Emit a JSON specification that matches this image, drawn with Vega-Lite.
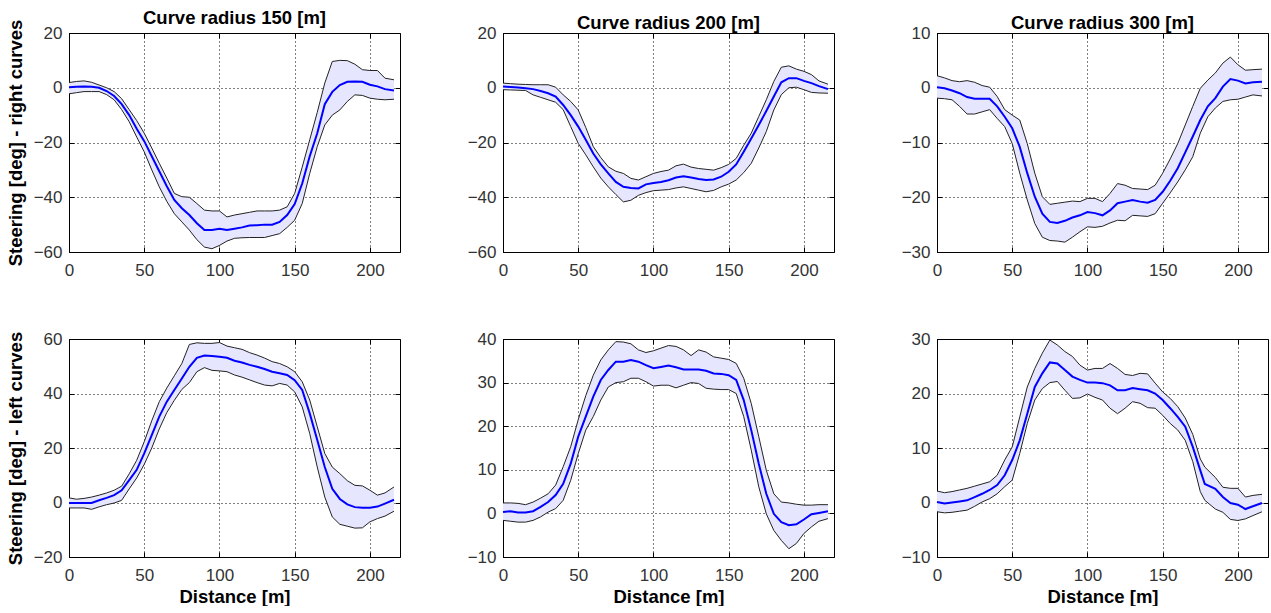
{
  "$schema": "https://vega.github.io/schema/vega-lite/v6.json",
  "padding": {"left": 5, "top": 8, "right": 0, "bottom": 0},
  "background": "white",
  "config": {
    "font": "Liberation Sans",
    "view": {"stroke": "black", "strokeWidth": 1},
    "axis": {
      "domain": false, "grid": true, "gridColor": "black", "gridDash": [1, 3], "gridOpacity": 1, "gridWidth": 1,
      "ticks": true, "tickColor": "black", "tickSize": -5, "tickWidth": 1,
      "labelFontSize": 17, "labelColor": "#333", "labelFont": "Liberation Sans", "labelFlush": false, "labelOverlap": false,
      "titleFont": "Liberation Sans", "titleFontSize": 18.5, "titleFontWeight": "bold", "titleColor": "black"
    },
    "axisX": {"labelPadding": 15, "titlePadding": 4},
    "axisY": {"labelPadding": 12, "titlePadding": 8},
    "title": {"fontSize": 18.5, "fontWeight": "bold", "font": "Liberation Sans", "color": "black", "offset": -8}
  },
  "datasets": {
    "p1": [
      {"x":0,"lo":-2.2,"m":0.2,"hi":1.9},{"x":5,"lo":-1.8,"m":0.4,"hi":2.3},{"x":10,"lo":-1.4,"m":0.5,"hi":2.5},{"x":15,"lo":-1.4,"m":0.4,"hi":2.0},
      {"x":20,"lo":-1.4,"m":0,"hi":1},{"x":25,"lo":-2.5,"m":-1.2,"hi":0},{"x":30,"lo":-4.4,"m":-3,"hi":-1.4},{"x":35,"lo":-8,"m":-6,"hi":-4},
      {"x":40,"lo":-12.4,"m":-10,"hi":-8},{"x":45,"lo":-18,"m":-15,"hi":-12},{"x":50,"lo":-23.4,"m":-19.5,"hi":-16.6},{"x":55,"lo":-30,"m":-25,"hi":-22},
      {"x":60,"lo":-36.2,"m":-30.5,"hi":-27.6},{"x":65,"lo":-41.5,"m":-36,"hi":-33},{"x":70,"lo":-46,"m":-41,"hi":-38.6},{"x":75,"lo":-49,"m":-44,"hi":-39.8},
      {"x":80,"lo":-52,"m":-46.5,"hi":-40},{"x":85,"lo":-55.5,"m":-49.5,"hi":-42.3},{"x":90,"lo":-58.2,"m":-52,"hi":-44.7},{"x":95,"lo":-58.8,"m":-52,"hi":-45},
      {"x":100,"lo":-57.6,"m":-51.5,"hi":-45},{"x":105,"lo":-56,"m":-52,"hi":-47.2},{"x":110,"lo":-55,"m":-51.5,"hi":-46.5},{"x":115,"lo":-54.8,"m":-51,"hi":-46},
      {"x":120,"lo":-54.7,"m":-50.3,"hi":-45.5},{"x":125,"lo":-54.7,"m":-50.2,"hi":-45},{"x":130,"lo":-54.7,"m":-50,"hi":-45},{"x":135,"lo":-54,"m":-50,"hi":-45},
      {"x":140,"lo":-53.3,"m":-49,"hi":-44.7},{"x":145,"lo":-51,"m":-46.5,"hi":-43.5},{"x":150,"lo":-48.4,"m":-42.5,"hi":-38.6},{"x":155,"lo":-42.3,"m":-35,"hi":-29},
      {"x":160,"lo":-31.3,"m":-25,"hi":-19},{"x":165,"lo":-21.5,"m":-16.6,"hi":-9},{"x":170,"lo":-13.6,"m":-6,"hi":1.7},{"x":175,"lo":-10,"m":-1.5,"hi":9.6},
      {"x":180,"lo":-8.1,"m":1,"hi":10},{"x":185,"lo":-5,"m":2.2,"hi":9.9},{"x":190,"lo":-2.6,"m":2.3,"hi":8.6},{"x":195,"lo":-2.8,"m":2.2,"hi":6.6},
      {"x":200,"lo":-3.8,"m":1.1,"hi":6.3},{"x":205,"lo":-4.2,"m":0.5,"hi":6.3},{"x":210,"lo":-4.4,"m":-0.5,"hi":3.5},{"x":216,"lo":-4.2,"m":-1,"hi":2.9}
    ],
    "p2": [
      {"x":0,"lo":-0.7,"m":0.5,"hi":1.7},{"x":5,"lo":-0.8,"m":0.3,"hi":1.5},{"x":10,"lo":-0.9,"m":0.1,"hi":1.3},{"x":15,"lo":-1,"m":-0.2,"hi":1.2},
      {"x":20,"lo":-2.6,"m":-0.5,"hi":1.1},{"x":25,"lo":-3.5,"m":-1.2,"hi":1.1},{"x":30,"lo":-4.4,"m":-2,"hi":1.1},{"x":35,"lo":-5.3,"m":-3.2,"hi":0.2},
      {"x":40,"lo":-8,"m":-6.3,"hi":-2.6},{"x":45,"lo":-14.2,"m":-10,"hi":-5},{"x":50,"lo":-20.3,"m":-14.2,"hi":-8.1},{"x":55,"lo":-24.5,"m":-19,"hi":-14.5},
      {"x":60,"lo":-28.9,"m":-24,"hi":-21.5},{"x":65,"lo":-33,"m":-28,"hi":-25.5},{"x":70,"lo":-36.2,"m":-31.3,"hi":-28.9},{"x":75,"lo":-39,"m":-34.4,"hi":-30.5},
      {"x":80,"lo":-41.7,"m":-36.2,"hi":-31.3},{"x":85,"lo":-41.1,"m":-36.6,"hi":-33.1},{"x":90,"lo":-39.3,"m":-36.8,"hi":-33.7},{"x":95,"lo":-38.3,"m":-35.3,"hi":-32.5},
      {"x":100,"lo":-37.6,"m":-34.8,"hi":-31.3},{"x":105,"lo":-37.4,"m":-34.4,"hi":-30.6},{"x":110,"lo":-37.2,"m":-33.8,"hi":-30.1},{"x":115,"lo":-36.6,"m":-32.8,"hi":-28.5},
      {"x":120,"lo":-36.2,"m":-32.3,"hi":-27.9},{"x":125,"lo":-36.8,"m":-32.8,"hi":-29},{"x":130,"lo":-37.4,"m":-33.3,"hi":-29.5},{"x":135,"lo":-38,"m":-33.7,"hi":-29.8},
      {"x":140,"lo":-37.5,"m":-33.5,"hi":-30.1},{"x":145,"lo":-36.2,"m":-32.5,"hi":-29.2},{"x":150,"lo":-35.2,"m":-30.7,"hi":-28},{"x":155,"lo":-33.7,"m":-28,"hi":-25.8},
      {"x":160,"lo":-31,"m":-23.4,"hi":-21},{"x":165,"lo":-27.6,"m":-18.5,"hi":-16.6},{"x":170,"lo":-22,"m":-13.6,"hi":-10.5},{"x":175,"lo":-16,"m":-8.5,"hi":-4.4},
      {"x":180,"lo":-8.1,"m":-3.2,"hi":2.3},{"x":185,"lo":-2.5,"m":2,"hi":7.5},{"x":190,"lo":0,"m":3.5,"hi":8},{"x":195,"lo":0.2,"m":3.5,"hi":6.8},
      {"x":200,"lo":-0.7,"m":2.5,"hi":6},{"x":205,"lo":-1.7,"m":1.7,"hi":4.8},{"x":210,"lo":-1.9,"m":0.6,"hi":2.5},{"x":216,"lo":-2,"m":-0.5,"hi":1.3}
    ],
    "p3": [
      {"x":0,"lo":-1.9,"m":0.1,"hi":2.2},{"x":5,"lo":-2,"m":-0.1,"hi":1.8},{"x":10,"lo":-2.2,"m":-0.5,"hi":1.3},{"x":15,"lo":-3.4,"m":-1,"hi":1.1},
      {"x":20,"lo":-4.8,"m":-1.7,"hi":1.3},{"x":25,"lo":-4.8,"m":-2,"hi":1.0},{"x":30,"lo":-4.4,"m":-2,"hi":0.4},{"x":35,"lo":-4,"m":-2,"hi":0.1},
      {"x":40,"lo":-5.6,"m":-3.4,"hi":-1.6},{"x":45,"lo":-7.1,"m":-5.3,"hi":-4},{"x":50,"lo":-10.2,"m":-7.4,"hi":-5},{"x":55,"lo":-15.6,"m":-10.8,"hi":-5.9},
      {"x":60,"lo":-20.5,"m":-15.6,"hi":-10.2},{"x":65,"lo":-24.8,"m":-19.9,"hi":-15.6},{"x":70,"lo":-27.3,"m":-23,"hi":-19.9},{"x":75,"lo":-27.9,"m":-24.5,"hi":-21.3},
      {"x":80,"lo":-28,"m":-24.7,"hi":-21.1},{"x":85,"lo":-28.2,"m":-24.3,"hi":-20.9},{"x":90,"lo":-27.3,"m":-23.7,"hi":-20.7},{"x":95,"lo":-26.3,"m":-23.3,"hi":-20.8},
      {"x":100,"lo":-25.4,"m":-22.7,"hi":-20.2},{"x":105,"lo":-25.5,"m":-22.9,"hi":-20.2},{"x":110,"lo":-25.3,"m":-23.3,"hi":-20.8},{"x":115,"lo":-24.7,"m":-22.4,"hi":-19.3},
      {"x":120,"lo":-24.2,"m":-21.1,"hi":-17.5},{"x":125,"lo":-24.3,"m":-20.8,"hi":-17.8},{"x":130,"lo":-23.3,"m":-20.5,"hi":-18.4},{"x":135,"lo":-23.4,"m":-20.8,"hi":-18.5},
      {"x":140,"lo":-23.5,"m":-21,"hi":-18.6},{"x":145,"lo":-23,"m":-20.5,"hi":-17.8},{"x":150,"lo":-21.1,"m":-19,"hi":-15.6},{"x":155,"lo":-19.2,"m":-17,"hi":-13},
      {"x":160,"lo":-17.2,"m":-14.7,"hi":-10.2},{"x":165,"lo":-15,"m":-11.8,"hi":-6.8},{"x":170,"lo":-12.6,"m":-8.9,"hi":-3.4},{"x":175,"lo":-8.3,"m":-5.9,"hi":-0.1},
      {"x":180,"lo":-5.3,"m":-3.4,"hi":1.4},{"x":185,"lo":-3.7,"m":-1.9,"hi":2.7},{"x":190,"lo":-2.5,"m":0.2,"hi":4.5},{"x":195,"lo":-2.2,"m":1.6,"hi":5.6},
      {"x":200,"lo":-2.1,"m":1.3,"hi":4.2},{"x":205,"lo":-1.7,"m":0.8,"hi":3.2},{"x":210,"lo":-1.3,"m":1,"hi":3.3},{"x":216,"lo":-1.5,"m":1.1,"hi":3.4}
    ],
    "p4": [
      {"x":0,"lo":-2,"m":-0.2,"hi":1.7},{"x":5,"lo":-2,"m":-0.2,"hi":1.2},{"x":10,"lo":-2,"m":-0.2,"hi":1.5},{"x":15,"lo":-2.5,"m":-0.2,"hi":2},
      {"x":20,"lo":-1.6,"m":0.8,"hi":2.7},{"x":25,"lo":-0.8,"m":1.7,"hi":3.5},{"x":30,"lo":-0.2,"m":2.7,"hi":4.5},{"x":35,"lo":0.8,"m":4.5,"hi":6},
      {"x":40,"lo":5,"m":8.2,"hi":10.5},{"x":45,"lo":9,"m":12,"hi":15.5},{"x":50,"lo":14,"m":18,"hi":22.3},{"x":55,"lo":20,"m":24.7,"hi":30},
      {"x":60,"lo":27,"m":31.5,"hi":37},{"x":65,"lo":33,"m":37,"hi":42},{"x":70,"lo":37.5,"m":41.3,"hi":46.5},{"x":75,"lo":41.5,"m":45.5,"hi":51},
      {"x":80,"lo":44,"m":49.8,"hi":58},{"x":85,"lo":48,"m":53.1,"hi":58.6},{"x":90,"lo":49.5,"m":53.9,"hi":58.4},{"x":95,"lo":48.5,"m":53.8,"hi":58.4},
      {"x":100,"lo":48.3,"m":53.5,"hi":58.7},{"x":105,"lo":48,"m":53.1,"hi":57.4},{"x":110,"lo":46.8,"m":52,"hi":56.8},{"x":115,"lo":46,"m":51.4,"hi":56.2},
      {"x":120,"lo":45,"m":50.5,"hi":55},{"x":125,"lo":44,"m":49.8,"hi":54.1},{"x":130,"lo":43.1,"m":49,"hi":53},{"x":135,"lo":42.8,"m":48,"hi":51.7},
      {"x":140,"lo":43.7,"m":47.4,"hi":51},{"x":145,"lo":43.1,"m":46.8,"hi":49.8},{"x":150,"lo":40.6,"m":44.9,"hi":48},{"x":155,"lo":35.1,"m":41.3,"hi":44.3},
      {"x":160,"lo":25.3,"m":32.7,"hi":37.6},{"x":165,"lo":13,"m":22.9,"hi":27.8},{"x":170,"lo":2,"m":13,"hi":18},{"x":175,"lo":-5.3,"m":5,"hi":13},
      {"x":180,"lo":-8,"m":1.3,"hi":10.6},{"x":185,"lo":-8.7,"m":-0.7,"hi":8},{"x":190,"lo":-9.4,"m":-1.7,"hi":6.3},{"x":195,"lo":-9.3,"m":-1.9,"hi":6.1},
      {"x":200,"lo":-7.1,"m":-1.9,"hi":4.5},{"x":205,"lo":-5.9,"m":-1.5,"hi":2.7},{"x":210,"lo":-5,"m":-0.4,"hi":3.5},{"x":216,"lo":-3.2,"m":1,"hi":5.7}
    ],
    "p5": [
      {"x":0,"lo":-1.6,"m":0.3,"hi":2.4},{"x":5,"lo":-1.8,"m":0.5,"hi":2.4},{"x":10,"lo":-2,"m":0.2,"hi":2.3},{"x":15,"lo":-2,"m":0.2,"hi":2},
      {"x":20,"lo":-1.6,"m":0.5,"hi":2.6},{"x":25,"lo":-0.8,"m":1.5,"hi":3.5},{"x":30,"lo":0.3,"m":2.6,"hi":4.5},{"x":35,"lo":1.1,"m":4.2,"hi":6.5},
      {"x":40,"lo":3,"m":6.8,"hi":10.7},{"x":45,"lo":7.6,"m":11.4,"hi":15.3},{"x":50,"lo":13.7,"m":17.6,"hi":21.5},{"x":55,"lo":19.1,"m":22.2,"hi":27},
      {"x":60,"lo":22.2,"m":26.8,"hi":31.7},{"x":65,"lo":26,"m":30.6,"hi":35.2},{"x":70,"lo":29,"m":32.9,"hi":37.5},{"x":75,"lo":30,"m":34.8,"hi":39.4},
      {"x":80,"lo":30.2,"m":34.8,"hi":39.3},{"x":85,"lo":31,"m":35.2,"hi":38.9},{"x":90,"lo":31,"m":34.8,"hi":37.5},{"x":95,"lo":30.2,"m":34,"hi":36.9},
      {"x":100,"lo":29.2,"m":33.3,"hi":37.3},{"x":105,"lo":29.4,"m":33.6,"hi":37.9},{"x":110,"lo":29.4,"m":33.9,"hi":38.5},{"x":115,"lo":28.8,"m":33.5,"hi":38.3},
      {"x":120,"lo":29.4,"m":33,"hi":37.5},{"x":125,"lo":30,"m":33,"hi":36.2},{"x":130,"lo":29.8,"m":33,"hi":37.5},{"x":135,"lo":28.7,"m":32.7,"hi":37},
      {"x":140,"lo":28.5,"m":32.1,"hi":35.9},{"x":145,"lo":28.4,"m":32,"hi":35.6},{"x":150,"lo":28.4,"m":31.7,"hi":35.3},{"x":155,"lo":27.5,"m":30.6,"hi":34.4},
      {"x":160,"lo":22.2,"m":26,"hi":31},{"x":165,"lo":14.5,"m":19.1,"hi":25.2},{"x":170,"lo":6.1,"m":11.4,"hi":17.6},{"x":175,"lo":-0.1,"m":4.5,"hi":9.9},
      {"x":180,"lo":-3.9,"m":-0.1,"hi":4.5},{"x":185,"lo":-6.2,"m":-2,"hi":2.6},{"x":190,"lo":-8.1,"m":-2.7,"hi":2.4},{"x":195,"lo":-6.9,"m":-2.5,"hi":2.1},
      {"x":200,"lo":-4.6,"m":-1.4,"hi":1.9},{"x":205,"lo":-3.1,"m":-0.2,"hi":1.9},{"x":210,"lo":-1.8,"m":0.1,"hi":2},{"x":216,"lo":-1.2,"m":0.5,"hi":2}
    ],
    "p6": [
      {"x":0,"lo":-1.7,"m":0.1,"hi":2.1},{"x":5,"lo":-1.9,"m":-0.2,"hi":1.8},{"x":10,"lo":-1.8,"m":0,"hi":2},{"x":15,"lo":-1.6,"m":0.2,"hi":2.3},
      {"x":20,"lo":-1.4,"m":0.4,"hi":2.6},{"x":25,"lo":-0.7,"m":1,"hi":3},{"x":30,"lo":0.1,"m":1.6,"hi":3.4},{"x":35,"lo":0.7,"m":2.3,"hi":3.8},
      {"x":40,"lo":1.6,"m":3.2,"hi":5},{"x":45,"lo":2.9,"m":5,"hi":7.8},{"x":50,"lo":4.1,"m":7.8,"hi":10.2},{"x":55,"lo":9,"m":11.4,"hi":15.7},
      {"x":60,"lo":14.5,"m":16.3,"hi":21.2},{"x":65,"lo":18.8,"m":21.2,"hi":24.6},{"x":70,"lo":20.9,"m":23.7,"hi":27.4},{"x":75,"lo":22,"m":25.7,"hi":29.8},
      {"x":80,"lo":22.2,"m":25.5,"hi":28.9},{"x":85,"lo":20.6,"m":24.3,"hi":27.7},{"x":90,"lo":19.1,"m":23.1,"hi":26.8},{"x":95,"lo":19.2,"m":22.5,"hi":25.2},
      {"x":100,"lo":19.9,"m":22,"hi":24.3},{"x":105,"lo":19.3,"m":22,"hi":24.6},{"x":110,"lo":18.8,"m":21.9,"hi":24.6},{"x":115,"lo":17.3,"m":21.5,"hi":25.5},
      {"x":120,"lo":16.3,"m":20.6,"hi":24.6},{"x":125,"lo":17.3,"m":20.6,"hi":23.5},{"x":130,"lo":18.5,"m":21,"hi":23.3},{"x":135,"lo":18.2,"m":20.8,"hi":23.7},
      {"x":140,"lo":17.4,"m":20.6,"hi":23.6},{"x":145,"lo":17.3,"m":20,"hi":21.9},{"x":150,"lo":16,"m":18.8,"hi":20.3},{"x":155,"lo":14.5,"m":17.3,"hi":19.1},
      {"x":160,"lo":13.3,"m":15.7,"hi":17.6},{"x":165,"lo":11.4,"m":13.9,"hi":15.5},{"x":170,"lo":7.5,"m":10.2,"hi":12.5},{"x":175,"lo":2,"m":5.9,"hi":8},
      {"x":178,"lo":0.4,"m":3.4,"hi":6.5},{"x":185,"lo":-1.2,"m":2.5,"hi":4.6},{"x":190,"lo":-1.8,"m":1,"hi":2.8},{"x":195,"lo":-3.1,"m":-0.1,"hi":2.6},
      {"x":200,"lo":-3.3,"m":-0.4,"hi":2.6},{"x":205,"lo":-3,"m":-1.2,"hi":1},{"x":210,"lo":-2.4,"m":-0.7,"hi":1.3},{"x":216,"lo":-1.7,"m":-0.1,"hi":1.5}
    ]
  },
  "concat": [
    {
      "width": 331, "height": 219, "data": {"name": "p1"}, "title": "Curve radius 150 [m]",
      "layer": [
        {"mark": {"type": "area", "color": "#e6e6ff"}, "encoding": {
          "x": {"field": "x", "type": "quantitative", "scale": {"domain": [0, 216]}, "axis": {"orient": "bottom", "values": [0, 50, 100, 150, 200], "title": null}},
          "y": {"field": "lo", "type": "quantitative", "scale": {"domain": [-60, 20]}, "axis": {"orient": "left", "values": [-60, -40, -20, 0, 20], "title": "Steering [deg] - right curves"}},
          "y2": {"field": "hi"}}},
        {"mark": {"type": "line", "color": "#222", "strokeWidth": 1}, "encoding": {
          "x": {"field": "x", "type": "quantitative", "axis": {"orient": "top", "values": [0, 50, 100, 150, 200], "labels": false, "grid": false, "title": null}},
          "y": {"field": "lo", "type": "quantitative", "axis": {"orient": "right", "values": [-60, -40, -20, 0, 20], "labels": false, "grid": false, "title": null}}}},
        {"mark": {"type": "line", "color": "#222", "strokeWidth": 1}, "encoding": {
          "x": {"field": "x", "type": "quantitative", "axis": null}, "y": {"field": "hi", "type": "quantitative", "axis": null}}},
        {"mark": {"type": "line", "color": "#0000ff", "strokeWidth": 2}, "encoding": {
          "x": {"field": "x", "type": "quantitative", "axis": null}, "y": {"field": "m", "type": "quantitative", "axis": null}}}
      ]
    },
    {
      "width": 331, "height": 219, "data": {"name": "p2"}, "title": "Curve radius 200 [m]",
      "layer": [
        {"mark": {"type": "area", "color": "#e6e6ff"}, "encoding": {
          "x": {"field": "x", "type": "quantitative", "scale": {"domain": [0, 216]}, "axis": {"orient": "bottom", "values": [0, 50, 100, 150, 200], "title": null}},
          "y": {"field": "lo", "type": "quantitative", "scale": {"domain": [-60, 20]}, "axis": {"orient": "left", "values": [-60, -40, -20, 0, 20], "title": null}},
          "y2": {"field": "hi"}}},
        {"mark": {"type": "line", "color": "#222", "strokeWidth": 1}, "encoding": {
          "x": {"field": "x", "type": "quantitative", "axis": {"orient": "top", "values": [0, 50, 100, 150, 200], "labels": false, "grid": false, "title": null}},
          "y": {"field": "lo", "type": "quantitative", "axis": {"orient": "right", "values": [-60, -40, -20, 0, 20], "labels": false, "grid": false, "title": null}}}},
        {"mark": {"type": "line", "color": "#222", "strokeWidth": 1}, "encoding": {
          "x": {"field": "x", "type": "quantitative", "axis": null}, "y": {"field": "hi", "type": "quantitative", "axis": null}}},
        {"mark": {"type": "line", "color": "#0000ff", "strokeWidth": 2}, "encoding": {
          "x": {"field": "x", "type": "quantitative", "axis": null}, "y": {"field": "m", "type": "quantitative", "axis": null}}}
      ]
    },
    {
      "width": 331, "height": 219, "data": {"name": "p3"}, "title": "Curve radius 300 [m]",
      "layer": [
        {"mark": {"type": "area", "color": "#e6e6ff"}, "encoding": {
          "x": {"field": "x", "type": "quantitative", "scale": {"domain": [0, 216]}, "axis": {"orient": "bottom", "values": [0, 50, 100, 150, 200], "title": null}},
          "y": {"field": "lo", "type": "quantitative", "scale": {"domain": [-30, 10]}, "axis": {"orient": "left", "values": [-30, -20, -10, 0, 10], "title": null}},
          "y2": {"field": "hi"}}},
        {"mark": {"type": "line", "color": "#222", "strokeWidth": 1}, "encoding": {
          "x": {"field": "x", "type": "quantitative", "axis": {"orient": "top", "values": [0, 50, 100, 150, 200], "labels": false, "grid": false, "title": null}},
          "y": {"field": "lo", "type": "quantitative", "axis": {"orient": "right", "values": [-30, -20, -10, 0, 10], "labels": false, "grid": false, "title": null}}}},
        {"mark": {"type": "line", "color": "#222", "strokeWidth": 1}, "encoding": {
          "x": {"field": "x", "type": "quantitative", "axis": null}, "y": {"field": "hi", "type": "quantitative", "axis": null}}},
        {"mark": {"type": "line", "color": "#0000ff", "strokeWidth": 2}, "encoding": {
          "x": {"field": "x", "type": "quantitative", "axis": null}, "y": {"field": "m", "type": "quantitative", "axis": null}}}
      ]
    },
    {
      "width": 331, "height": 218, "data": {"name": "p4"},
      "layer": [
        {"mark": {"type": "area", "color": "#e6e6ff"}, "encoding": {
          "x": {"field": "x", "type": "quantitative", "scale": {"domain": [0, 216]}, "axis": {"orient": "bottom", "values": [0, 50, 100, 150, 200], "title": "Distance [m]"}},
          "y": {"field": "lo", "type": "quantitative", "scale": {"domain": [-20, 60]}, "axis": {"orient": "left", "values": [-20, 0, 20, 40, 60], "title": "Steering [deg] - left curves"}},
          "y2": {"field": "hi"}}},
        {"mark": {"type": "line", "color": "#222", "strokeWidth": 1}, "encoding": {
          "x": {"field": "x", "type": "quantitative", "axis": {"orient": "top", "values": [0, 50, 100, 150, 200], "labels": false, "grid": false, "title": null}},
          "y": {"field": "lo", "type": "quantitative", "axis": {"orient": "right", "values": [-20, 0, 20, 40, 60], "labels": false, "grid": false, "title": null}}}},
        {"mark": {"type": "line", "color": "#222", "strokeWidth": 1}, "encoding": {
          "x": {"field": "x", "type": "quantitative", "axis": null}, "y": {"field": "hi", "type": "quantitative", "axis": null}}},
        {"mark": {"type": "line", "color": "#0000ff", "strokeWidth": 2}, "encoding": {
          "x": {"field": "x", "type": "quantitative", "axis": null}, "y": {"field": "m", "type": "quantitative", "axis": null}}}
      ]
    },
    {
      "width": 331, "height": 218, "data": {"name": "p5"},
      "layer": [
        {"mark": {"type": "area", "color": "#e6e6ff"}, "encoding": {
          "x": {"field": "x", "type": "quantitative", "scale": {"domain": [0, 216]}, "axis": {"orient": "bottom", "values": [0, 50, 100, 150, 200], "title": "Distance [m]"}},
          "y": {"field": "lo", "type": "quantitative", "scale": {"domain": [-10, 40]}, "axis": {"orient": "left", "values": [-10, 0, 10, 20, 30, 40], "title": null}},
          "y2": {"field": "hi"}}},
        {"mark": {"type": "line", "color": "#222", "strokeWidth": 1}, "encoding": {
          "x": {"field": "x", "type": "quantitative", "axis": {"orient": "top", "values": [0, 50, 100, 150, 200], "labels": false, "grid": false, "title": null}},
          "y": {"field": "lo", "type": "quantitative", "axis": {"orient": "right", "values": [-10, 0, 10, 20, 30, 40], "labels": false, "grid": false, "title": null}}}},
        {"mark": {"type": "line", "color": "#222", "strokeWidth": 1}, "encoding": {
          "x": {"field": "x", "type": "quantitative", "axis": null}, "y": {"field": "hi", "type": "quantitative", "axis": null}}},
        {"mark": {"type": "line", "color": "#0000ff", "strokeWidth": 2}, "encoding": {
          "x": {"field": "x", "type": "quantitative", "axis": null}, "y": {"field": "m", "type": "quantitative", "axis": null}}}
      ]
    },
    {
      "width": 331, "height": 218, "data": {"name": "p6"},
      "layer": [
        {"mark": {"type": "area", "color": "#e6e6ff"}, "encoding": {
          "x": {"field": "x", "type": "quantitative", "scale": {"domain": [0, 216]}, "axis": {"orient": "bottom", "values": [0, 50, 100, 150, 200], "title": "Distance [m]"}},
          "y": {"field": "lo", "type": "quantitative", "scale": {"domain": [-10, 30]}, "axis": {"orient": "left", "values": [-10, 0, 10, 20, 30], "title": null}},
          "y2": {"field": "hi"}}},
        {"mark": {"type": "line", "color": "#222", "strokeWidth": 1}, "encoding": {
          "x": {"field": "x", "type": "quantitative", "axis": {"orient": "top", "values": [0, 50, 100, 150, 200], "labels": false, "grid": false, "title": null}},
          "y": {"field": "lo", "type": "quantitative", "axis": {"orient": "right", "values": [-10, 0, 10, 20, 30], "labels": false, "grid": false, "title": null}}}},
        {"mark": {"type": "line", "color": "#222", "strokeWidth": 1}, "encoding": {
          "x": {"field": "x", "type": "quantitative", "axis": null}, "y": {"field": "hi", "type": "quantitative", "axis": null}}},
        {"mark": {"type": "line", "color": "#0000ff", "strokeWidth": 2}, "encoding": {
          "x": {"field": "x", "type": "quantitative", "axis": null}, "y": {"field": "m", "type": "quantitative", "axis": null}}}
      ]
    }
  ],
  "columns": 3,
  "bounds": "flush",
  "spacing": {"column": 103, "row": 87}
}
